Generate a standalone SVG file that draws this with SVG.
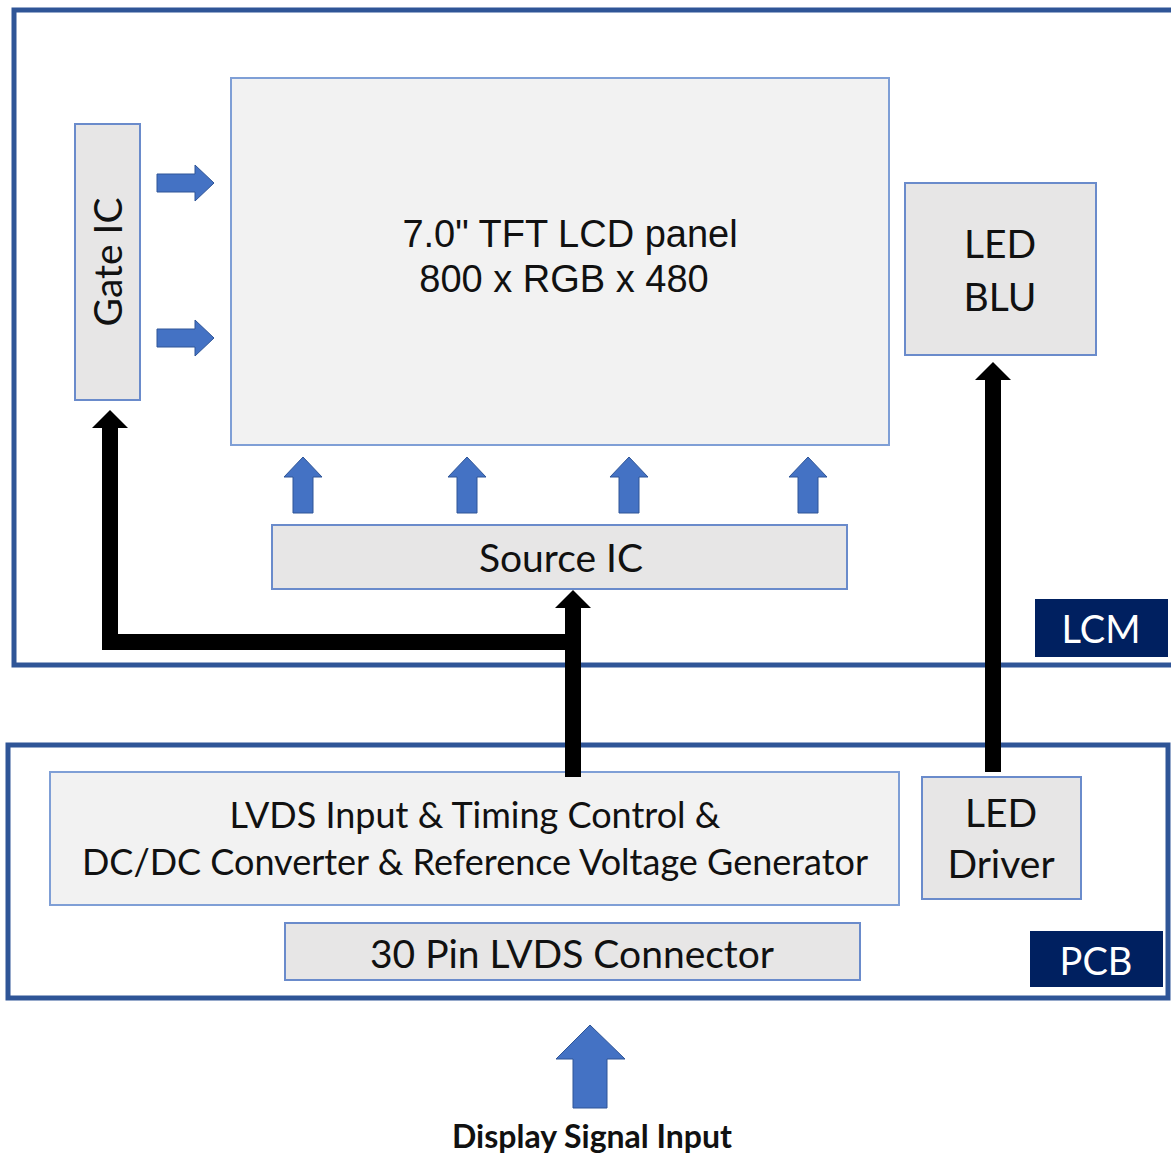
<svg xmlns="http://www.w3.org/2000/svg" width="1171" height="1158" viewBox="0 0 1171 1158">
<style>
.frame{fill:none;stroke:#2F5597;stroke-width:5}
.box{fill:#E7E6E6;stroke:#6A8BCB;stroke-width:2}
.box2{fill:#F2F2F2;stroke:#7F9FD6;stroke-width:2}
.tag{fill:#002060}
.t{font-family:Lato,"Open Sans","Noto Sans",sans-serif;font-size:39px;fill:#111;text-anchor:middle}
.ts{font-family:Lato,"Open Sans","Noto Sans",sans-serif;font-size:36px;fill:#111;text-anchor:middle}
.tw{font-family:Lato,"Open Sans","Noto Sans",sans-serif;font-size:38px;fill:#fff;text-anchor:middle}
.ta{font-family:"Liberation Sans",Arial,sans-serif;font-size:38px;fill:#111;text-anchor:middle}
.tb{font-family:Lato,"Open Sans","Noto Sans",sans-serif;font-size:32px;font-weight:bold;fill:#111;text-anchor:middle}
.blue{fill:#4472C4;stroke:#2F5597;stroke-width:1}
.wire{fill:none;stroke:#000;stroke-width:16;stroke-linejoin:miter;marker-end:url(#ah)}
</style>
<defs>
<marker id="ah" markerUnits="userSpaceOnUse" viewBox="0 0 18 36" markerWidth="18" markerHeight="36" refX="0" refY="18" orient="auto">
<path d="M0,0 L18,18 L0,36 Z" fill="#000"/>
</marker>
</defs>
<rect width="1171" height="1158" fill="#fff"/>

<g id="lcm-frame">
<rect class="frame" x="14" y="10" width="1175" height="655"/>
<rect class="tag" x="1035" y="599" width="133" height="58"/>
<text class="tw" x="1101" y="643">LCM</text>
</g>
<g id="pcb-frame">
<rect class="frame" x="8" y="745" width="1160" height="253"/>
<rect class="tag" x="1030" y="931" width="133" height="56"/>
<text class="tw" x="1096" y="975">PCB</text>
</g>

<g id="gate-ic">
<rect class="box" x="75" y="124" width="65" height="276"/>
<text class="t" transform="translate(122,262) rotate(-90)" x="0" y="0">Gate IC</text>
</g>
<g id="panel">
<rect class="box2" x="231" y="78" width="658" height="367"/>
<text class="ta" x="570" y="247">7.0" TFT LCD panel</text>
<text class="ta" x="564" y="292">800 x RGB x 480</text>
</g>
<g id="led-blu">
<rect class="box" x="905" y="183" width="191" height="172"/>
<text class="t" x="1000" y="258">LED</text>
<text class="t" x="1000" y="311">BLU</text>
</g>
<g id="source-ic">
<rect class="box" x="272" y="525" width="575" height="64"/>
<text class="t" x="561" y="572">Source IC</text>
</g>
<g id="lvds-tcon">
<rect class="box2" x="50" y="772" width="849" height="133"/>
<text class="ts" x="475" y="828">LVDS Input &amp; Timing Control &amp;</text>
<text class="ts" x="475" y="875">DC/DC Converter &amp; Reference Voltage Generator</text>
</g>
<g id="led-driver">
<rect class="box" x="922" y="777" width="159" height="122"/>
<text class="t" x="1001" y="827">LED</text>
<text class="t" x="1001" y="878">Driver</text>
</g>
<g id="connector">
<rect class="box" x="285" y="923" width="575" height="57"/>
<text class="t" x="572" y="968">30 Pin LVDS Connector</text>
</g>
<g id="signal-input">
<polygon class="blue" points="590,1025 625,1059 607,1059 607,1108 573,1108 573,1059 556,1059"/>
<text class="tb" x="592" y="1148">Display Signal Input</text>
</g>

<g id="connectors">
<polygon class="blue" points="157,174 195,174 195,165 214,183 195,201 195,192 157,192"/>
<polygon class="blue" points="157,329 195,329 195,320 214,338 195,356 195,347 157,347"/>
<polygon class="blue" points="303,457 322,477 313,477 313,513 293,513 293,477 284,477"/>
<polygon class="blue" points="467,457 486,477 477,477 477,513 457,513 457,477 448,477"/>
<polygon class="blue" points="629,457 648,477 639,477 639,513 619,513 619,477 610,477"/>
<polygon class="blue" points="808,457 827,477 818,477 818,513 798,513 798,477 789,477"/>
<path class="wire" d="M573,777 V608"/>
<path class="wire" d="M573,642 H110 V428"/>
<path class="wire" d="M993,772 V380"/>
</g>
</svg>
